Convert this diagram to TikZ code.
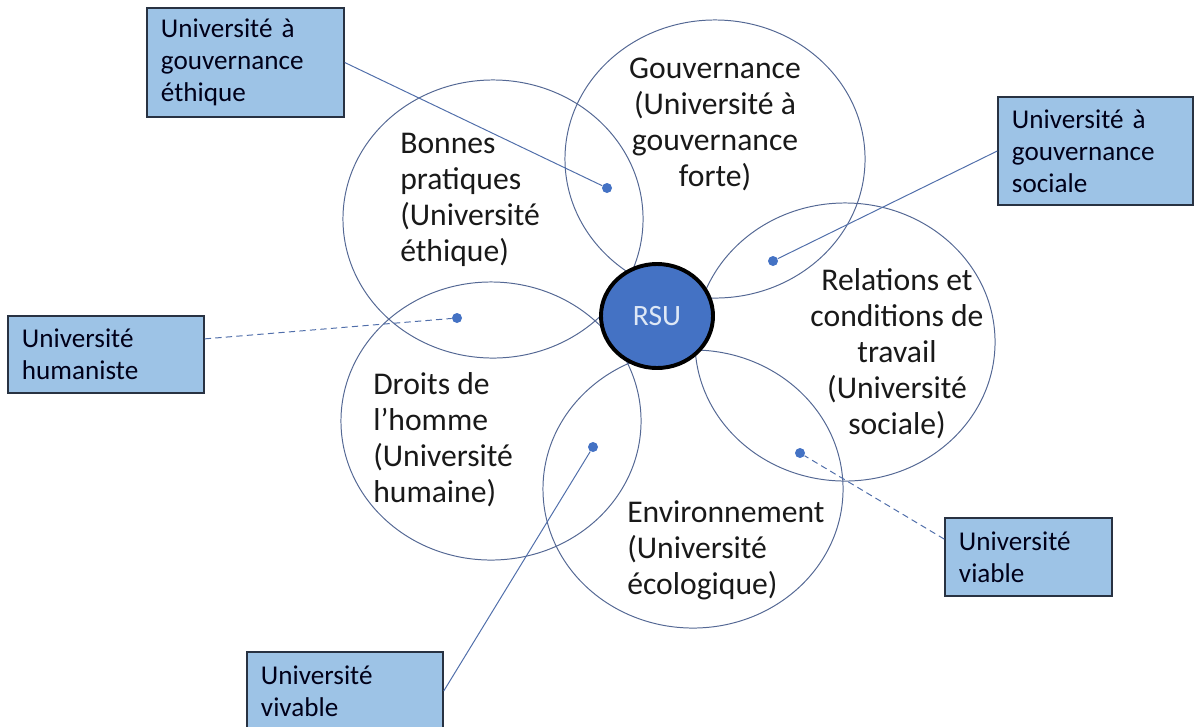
\documentclass[tikz,border=0pt]{standalone}
\usepackage{fontspec}
\setmainfont{Carlito}
\usetikzlibrary{shapes.geometric}
\definecolor{petalline}{RGB}{84,104,148}
\definecolor{boxfill}{RGB}{157,195,230}
\definecolor{boxline}{RGB}{40,50,66}
\definecolor{rsublue}{RGB}{68,114,196}
\definecolor{rsutext}{RGB}{222,232,246}
\definecolor{linkline}{RGB}{80,110,170}

\begin{document}
\begin{tikzpicture}[x=0.025cm, y=-0.025cm,
  petal/.style={draw=petalline, line width=0.7pt, ellipse, inner sep=0pt,
                minimum width=7.5cm, minimum height=6.95cm},
  ptxt/.style={align=left, font=\fontsize{22.5}{25.6}\selectfont, text=black!90, inner sep=0pt},
  box/.style={draw=boxline, line width=1pt, fill=boxfill, align=left,
              font=\fontsize{19.3}{22.8}\selectfont, text=black!90!blue,
              inner xsep=0.35cm, inner ysep=0pt},
  dot/.style={circle, fill=rsublue, inner sep=0pt, minimum size=0.25cm},
  link/.style={draw=linkline, line width=0.7pt},
  dlink/.style={link, dash pattern=on 4.5pt off 3pt}]
  \useasboundingbox (0,0) rectangle (1194,726);
  % petales
  \node[petal] (pg) at (715,159) {};
  \node[petal] (pb) at (493,219) {};
  \node[petal] (pr) at (845,342) {};
  \node[petal] (pd) at (491,421) {};
  \node[petal] (pe) at (693,489) {};
  \node[ptxt, align=center] (tg) at (715,124) {Gouvernance\\(Université à\\gouvernance\\forte)};
  \node[ptxt, anchor=west] (tb) at (400,200) {Bonnes\\pratiques\\(Université\\éthique)};
  \node[ptxt, align=center] (tr) at (897,354) {Relations et\\conditions de\\travail\\(Université\\sociale)};
  \node[ptxt, anchor=west] (td) at (373,440) {Droits de\\l’homme\\(Université\\humaine)};
  \node[ptxt, anchor=west] (te) at (627,550) {Environnement\\(Université\\écologique)};
  % centre
  \node[ellipse, draw=black, line width=2.8pt, fill=rsublue, text=rsutext,
        minimum width=2.8cm, minimum height=2.6cm, font=\fontsize{21}{25}\selectfont] (rsu) at (657,316) {RSU};
  % etiquettes
  \node[box, text width=4.225cm, minimum height=2.725cm] (ue) at (245.5,62.5) {Université à\\gouvernance\\éthique};
  \node[box, text width=4.175cm, minimum height=2.7cm] (us) at (1095.5,151) {Université à\\gouvernance\\sociale};
  \node[box, text width=4.2cm, minimum height=1.925cm] (uh) at (106,354.5) {Université\\humaniste};
  \node[box, text width=3.475cm, minimum height=1.95cm] (uv) at (1028.5,557) {Université\\viable};
  \node[box, text width=4.2cm, minimum height=1.95cm] (uw) at (345,691) {Université\\vivable};
  \node[dot] (de) at (607,188) {};
  \node[dot] (ds) at (773,261) {};
  \node[dot] (dh) at (457,318) {};
  \node[dot] (dv) at (800,453) {};
  \node[dot] (dw) at (593,447) {};
  \draw[link] (ue.east) -- (de);
  \draw[link] (us.west) -- (ds);
  \draw[dlink] (uh.9) -- (dh);
  \draw[dlink] (uv.168) -- (dv);
  \draw[link] (uw.east) -- (dw);
\end{tikzpicture}
\end{document}
